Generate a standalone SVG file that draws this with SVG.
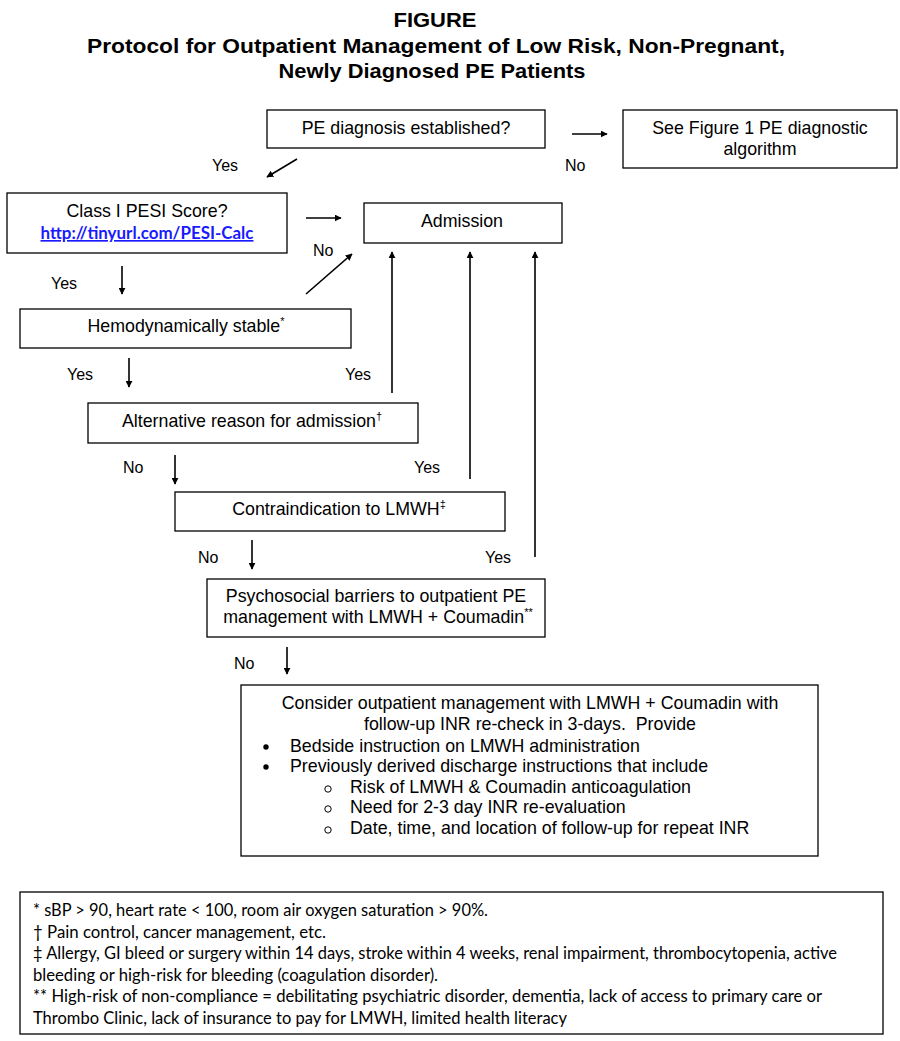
<svg xmlns="http://www.w3.org/2000/svg" width="900" height="1041" viewBox="0 0 900 1041">
<style>
.t{font-family:"Liberation Sans",Arial,sans-serif;font-size:17.8px;fill:#000}
.l{font-family:"Liberation Sans",Arial,sans-serif;font-size:16px;fill:#000}
.c{text-anchor:middle}
.h{font-family:"Liberation Sans",Arial,sans-serif;font-size:21px;font-weight:bold;text-anchor:middle;fill:#000}
.box{fill:#fff;stroke:#000;stroke-width:1.3}
.ln{stroke:#000;stroke-width:1.6;fill:none}
.fn{font-family:Lato,"Open Sans",sans-serif;font-size:16.5px;fill:#000}
.sup{font-size:11px}
</style>
<defs>
<marker id="ah" viewBox="0 0 10 10" refX="9" refY="5" markerWidth="7" markerHeight="7" markerUnits="userSpaceOnUse" orient="auto"><path d="M0,0 L10,5 L0,10 z" fill="#000"/></marker>
</defs>
<rect width="900" height="1041" fill="#fff"/>
<g id="title">
<text class="h" x="435" y="27" textLength="83" lengthAdjust="spacingAndGlyphs">FIGURE</text>
<text class="h" x="436" y="53" textLength="698" lengthAdjust="spacingAndGlyphs">Protocol for Outpatient Management of Low Risk, Non-Pregnant,</text>
<text class="h" x="432" y="78" textLength="307" lengthAdjust="spacingAndGlyphs">Newly Diagnosed PE Patients</text>
</g>
<g id="n-diag"><rect class="box" x="267" y="110" width="278" height="38"/><text class="t c" x="406" y="134">PE diagnosis established?</text></g>
<g id="n-fig1"><rect class="box" x="623" y="110" width="274" height="58"/><text class="t c" x="760" y="134">See Figure 1 PE diagnostic</text><text class="t c" x="760" y="155">algorithm</text></g>
<g id="n-pesi"><rect class="box" x="7" y="193" width="280" height="60"/><text class="t c" x="147" y="217">Class I PESI Score?</text><text x="147" y="239" text-anchor="middle" font-family="Lato,'Open Sans',sans-serif" font-size="16.5" font-weight="bold" fill="#1a1aff" text-decoration="underline" textLength="213" lengthAdjust="spacingAndGlyphs">http://tinyurl.com/PESI-Calc</text></g>
<g id="n-adm"><rect class="box" x="364" y="203" width="198" height="40"/><text class="t c" x="462" y="227">Admission</text></g>
<g id="n-hemo"><rect class="box" x="20" y="309" width="331" height="39"/><text class="t c" x="186" y="332">Hemodynamically stable<tspan class="sup" dy="-7">*</tspan></text></g>
<g id="n-alt"><rect class="box" x="88" y="403" width="330" height="40"/><text class="t c" x="252" y="427">Alternative reason for admission<tspan class="sup" dy="-7">†</tspan></text></g>
<g id="n-contra"><rect class="box" x="175" y="492" width="330" height="39"/><text class="t c" x="339" y="515">Contraindication to LMWH<tspan class="sup" dy="-7">‡</tspan></text></g>
<g id="n-psy"><rect class="box" x="207" y="579" width="338" height="58"/><text class="t c" x="376" y="602">Psychosocial barriers to outpatient PE</text><text class="t c" x="378" y="623">management with LMWH + Coumadin<tspan class="sup" dy="-7">**</tspan></text></g>
<g id="n-out"><rect class="box" x="241" y="685" width="577" height="171"/>
<text class="t c" x="530" y="709">Consider outpatient management with LMWH + Coumadin with</text>
<text class="t c" x="530" y="730" xml:space="preserve">follow-up INR re-check in 3-days.  Provide</text>
<circle cx="266" cy="747" r="2.7" fill="#000"/><text class="t" x="290" y="752">Bedside instruction on LMWH administration</text>
<circle cx="266" cy="767" r="2.7" fill="#000"/><text class="t" x="290" y="772">Previously derived discharge instructions that include</text>
<circle cx="328" cy="789" r="3.2" fill="none" stroke="#000" stroke-width="1"/><text class="t" x="350" y="793">Risk of LMWH &amp; Coumadin anticoagulation</text>
<circle cx="328" cy="809" r="3.2" fill="none" stroke="#000" stroke-width="1"/><text class="t" x="350" y="813">Need for 2-3 day INR re-evaluation</text>
<circle cx="328" cy="830" r="3.2" fill="none" stroke="#000" stroke-width="1"/><text class="t" x="350" y="834">Date, time, and location of follow-up for repeat INR</text>
</g>
<g id="labels">
<text class="l" x="212" y="171">Yes</text>
<text class="l" x="565" y="171">No</text>
<text class="l" x="313" y="256">No</text>
<text class="l" x="51" y="289">Yes</text>
<text class="l" x="67" y="380">Yes</text>
<text class="l" x="345" y="380">Yes</text>
<text class="l" x="123" y="473">No</text>
<text class="l" x="414" y="473">Yes</text>
<text class="l" x="198" y="563">No</text>
<text class="l" x="485" y="563">Yes</text>
<text class="l" x="234" y="669">No</text>
</g>
<g id="connectors">
<line class="ln" x1="572" y1="134" x2="607" y2="134" marker-end="url(#ah)"/>
<line class="ln" x1="297" y1="159" x2="267" y2="177" marker-end="url(#ah)"/>
<line class="ln" x1="306" y1="218" x2="341" y2="218" marker-end="url(#ah)"/>
<line class="ln" x1="306" y1="294" x2="352" y2="254" marker-end="url(#ah)"/>
<line class="ln" x1="122" y1="266" x2="122" y2="294" marker-end="url(#ah)"/>
<line class="ln" x1="129" y1="358" x2="129" y2="387" marker-end="url(#ah)"/>
<line class="ln" x1="392" y1="393" x2="392" y2="252" marker-end="url(#ah)"/>
<line class="ln" x1="175" y1="455" x2="175" y2="484" marker-end="url(#ah)"/>
<line class="ln" x1="470" y1="479" x2="470" y2="252" marker-end="url(#ah)"/>
<line class="ln" x1="252" y1="540" x2="252" y2="569" marker-end="url(#ah)"/>
<line class="ln" x1="535" y1="557" x2="535" y2="252" marker-end="url(#ah)"/>
<line class="ln" x1="287" y1="647" x2="287" y2="674" marker-end="url(#ah)"/>
</g>
<g id="footnotes">
<rect class="box" x="20" y="892" width="863" height="142"/>
<text class="fn" x="33" y="916" textLength="455" lengthAdjust="spacingAndGlyphs">* sBP &gt; 90, heart rate &lt; 100, room air oxygen saturation &gt; 90%.</text>
<text class="fn" x="33" y="938" textLength="293" lengthAdjust="spacingAndGlyphs">† Pain control, cancer management, etc.</text>
<text class="fn" x="33" y="959" textLength="804" lengthAdjust="spacingAndGlyphs">‡ Allergy, GI bleed or surgery within 14 days, stroke within 4 weeks, renal impairment, thrombocytopenia, active</text>
<text class="fn" x="33" y="981" textLength="405" lengthAdjust="spacingAndGlyphs">bleeding or high-risk for bleeding (coagulation disorder).</text>
<text class="fn" x="33" y="1002" textLength="789" lengthAdjust="spacingAndGlyphs">** High-risk of non-compliance = debilitating psychiatric disorder, dementia, lack of access to primary care or</text>
<text class="fn" x="33" y="1024" textLength="534" lengthAdjust="spacingAndGlyphs">Thrombo Clinic, lack of insurance to pay for LMWH, limited health literacy</text>
</g>
</svg>
